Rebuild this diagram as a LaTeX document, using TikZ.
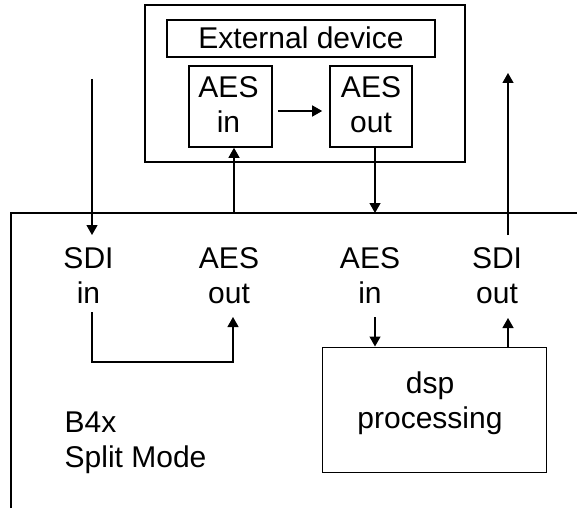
\documentclass[tikz,border=0pt]{standalone}
\usepackage{fontspec}
\setmainfont{Liberation Sans}
\usetikzlibrary{arrows.meta}
\tikzset{
  frame/.style={line width=2pt},
  boxthick/.style={draw, line width=1.6pt, inner sep=0pt},
  boxthin/.style={draw, line width=1pt, inner sep=0pt},
  conn/.style={line width=1.3pt, -{Triangle[length=10pt,width=11pt]}},
  lbl/.style={inner sep=0pt, anchor=base, font=\fontsize{30}{35}\selectfont},
}
\newcommand{\twol}[2]{\begin{tabular}[t]{@{}c@{}}#1\\#2\end{tabular}}
\begin{document}
\begin{tikzpicture}[x=1pt,y=-1pt]
\useasboundingbox (0,0) rectangle (577,508);
% external device
\node[draw, frame, minimum width=320pt, minimum height=157pt, inner sep=0pt] (ext) at (305,83.5) {};
\node[boxthick, minimum width=268pt, minimum height=37pt] (extlbl) at (301,38.5) {};
\node[lbl] (extlbltxt) at (301,48.5) {External device};
\node[boxthick, minimum width=83pt, minimum height=81pt] (aesinbox) at (230.5,106.5) {};
\node[boxthick, minimum width=82pt, minimum height=81pt] (aesoutbox) at (371,106.5) {};
\node[lbl] (aesintxt) at (228.5,98) {\twol{AES}{in}};
\node[lbl] (aesouttxt) at (371,98) {\twol{AES}{out}};
% main frame
\coordinate (mtl) at (11,213);
\coordinate (mtr) at (577,213);
\coordinate (mbl) at (11,508);
\draw[frame] (mbl) -- (mtl) -- (mtr);
% labels
\node[lbl] (sdiin) at (88.5,268) {\twol{SDI}{in}};
\node[lbl] (aesout) at (229,268) {\twol{AES}{out}};
\node[lbl] (aesin) at (370,268) {\twol{AES}{in}};
\node[lbl] (sdiout) at (497,268) {\twol{SDI}{out}};
\node[lbl, anchor=base west] (b4x) at (64.5,432) {B4x};
\node[lbl, anchor=base west] (split) at (64.5,467) {Split Mode};
% dsp
\node[boxthin, minimum width=224pt, minimum height=125pt] (dsp) at (434,409.5) {};
\node[lbl] (dsptxt) at (430,393) {\twol{dsp}{processing}};
% connectors
\coordinate (sdiinsrc) at (92,79);
\coordinate (sdiintip) at (92,235);
\draw[conn] (sdiinsrc) -- (sdiintip);
\coordinate (sdioutsrc) at (508,235);
\coordinate (sdiouttip) at (508,73);
\draw[conn] (sdioutsrc) -- (sdiouttip);
\coordinate (toaesin) at (234,213);
\draw[conn] (toaesin) -- (toaesin |- aesinbox.south);
\coordinate (fromaesout) at (375,213);
\draw[conn] (fromaesout |- aesoutbox.south) -- (fromaesout);
\coordinate (midarrow) at (300,111);
\draw[conn] ([xshift=5pt]aesinbox.east |- midarrow) -- ([xshift=-7pt]aesoutbox.west |- midarrow);
\coordinate (loopa) at (92,312);
\coordinate (loopb) at (233,317);
\draw[conn] (loopa) -- (92,362) -- (233,362) -- (loopb);
\coordinate (aesinlow) at (375,317);
\draw[conn] (aesinlow) -- (aesinlow |- dsp.north);
\coordinate (sdioutlow) at (508,318);
\draw[conn] (sdioutlow |- dsp.north) -- (sdioutlow);
\end{tikzpicture}
\end{document}
